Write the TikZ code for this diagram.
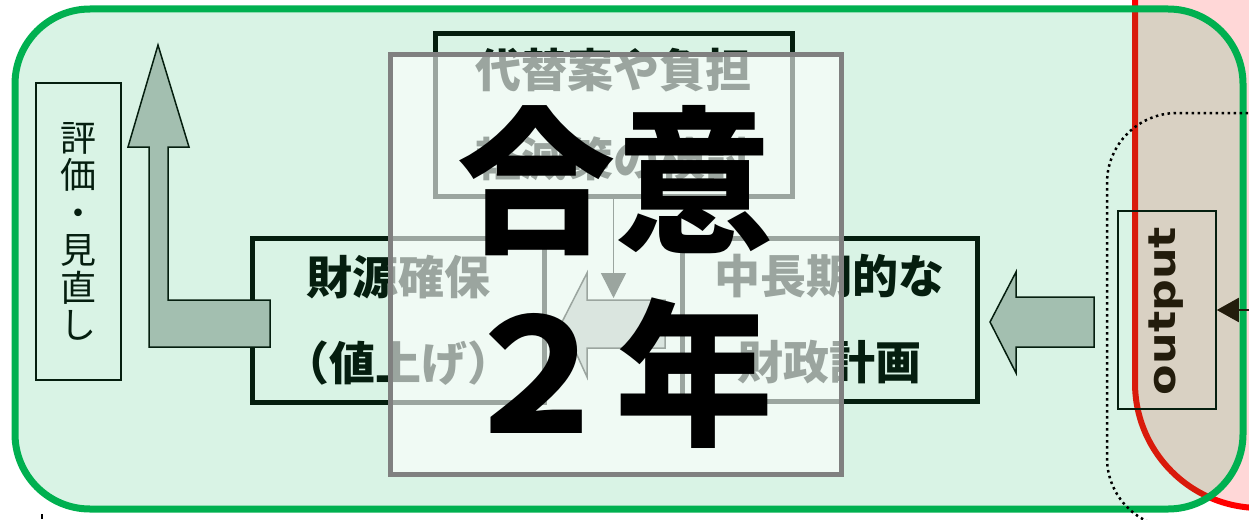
\documentclass[tikz,border=0pt]{standalone}
\usepackage{fontspec}
\newfontfamily\jp{Noto Sans CJK JP}
\newfontfamily\dvs{DejaVu Sans}
\usetikzlibrary{arrows.meta}
\definecolor{gline}{RGB}{0,176,80}
\definecolor{rline}{RGB}{255,0,0}
\definecolor{dark}{RGB}{5,30,15}
\definecolor{afill}{RGB}{163,191,176}
\definecolor{otext}{RGB}{35,28,12}
\definecolor{veilgray}{RGB}{128,128,128}
\tikzset{
  thickbox/.style={draw=dark, line width=5, inner sep=0, align=center, text=dark,
     font=\jp\bfseries\fontsize{46}{86}\selectfont},
  thinbox/.style={draw=dark, line width=1.5, inner sep=0},
  blockarrow/.style={draw=dark, line width=1.5, fill=afill},
  dotline/.style={draw=black, line width=2.5, dash pattern=on 2.5pt off 3.5pt},
}
\begin{document}
\begin{tikzpicture}[x=1pt,y=-1pt]
\clip (0,0) rectangle (1249,519);
% pink / red region
\fill[rline, fill opacity=0.157, rounded corners=125] (1135,-300) -- (1135,508) -- (1450,508) -- (1450,-300) -- cycle;
\draw[rline, line width=6, rounded corners=125] (1135,-300) -- (1135,508) -- (1450,508);
% green frame
\draw[gline, line width=7, fill=gline, fill opacity=0.15, rounded corners=75] (15,9) rectangle (1243,509);
% dotted boundary
\draw[dotline, rounded corners=70] (1320,113) -- (1107,113) -- (1107,528) -- (1320,528);
% output box
\node[thinbox, minimum width=98, minimum height=198] (out) at (1167,310) {};
\node[rotate=90, text=otext, font=\dvs\bfseries\fontsize{38}{38}\selectfont] (outlbl) at (1166,311) {\scalebox{1.17}[1]{output}};
\coordinate (feed) at (1265,310);
\draw[otext, line width=2, -{Triangle[length=22,width=24]}] (feed) -- (out.east);
% evaluation box
\node[thinbox, minimum width=85, minimum height=297, align=center, text=dark,
      font=\jp\fontsize{36}{37.5}\selectfont] (eval) at (78.5,231.5) {評\\価\\・\\見\\直\\し};
% main boxes
\node[thickbox, minimum width=357, minimum height=162, font=\jp\bfseries\fontsize{46}{89}\selectfont] (alt) at (613.5,115) {代替案や負担\\軽減策の検討};
\node[thickbox, minimum width=292, minimum height=164] (fund) at (398,320) {財源確保\\（値上げ）};
\node[thickbox, minimum width=295, minimum height=163] (plan) at (829.5,319.5) {中長期的な\\財政計画};
% down arrow into the merge
\coordinate (merge) at (613.5,298);
\draw[dark, line width=1.5, -{Triangle[length=25,width=25]}] (alt.south) -- (merge);
% center block arrow
\draw[blockarrow] (562,322) -- (587,273) -- (587,300) -- (665,300) -- (665,348) -- (587,348) -- (587,377) -- cycle;
% right block arrow
\draw[blockarrow] (990,322) -- (1016,272) -- (1016,297) -- (1094,297) -- (1094,347) -- (1016,347) -- (1016,373) -- cycle;
% L-shaped up arrow
\draw[blockarrow] (149,347) -- (149,147) -- (128,147) -- (158,45) -- (189,147) -- (168,147) -- (168,300) -- (270,300) -- (270,347) -- cycle;
% veil
\node[draw=veilgray, line width=5, fill=white, fill opacity=0.6, minimum width=451, minimum height=419, inner sep=0] (veil) at (615.5,264.5) {};
% big text
\node[align=center, text=black, font=\jp\bfseries\fontsize{158}{193}\selectfont, inner sep=0] (deal) at (615,277) {合意\\２年};
% tiny mark
\draw[black, line width=1.2] (42,514) -- (42,519);
\end{tikzpicture}
\end{document}
